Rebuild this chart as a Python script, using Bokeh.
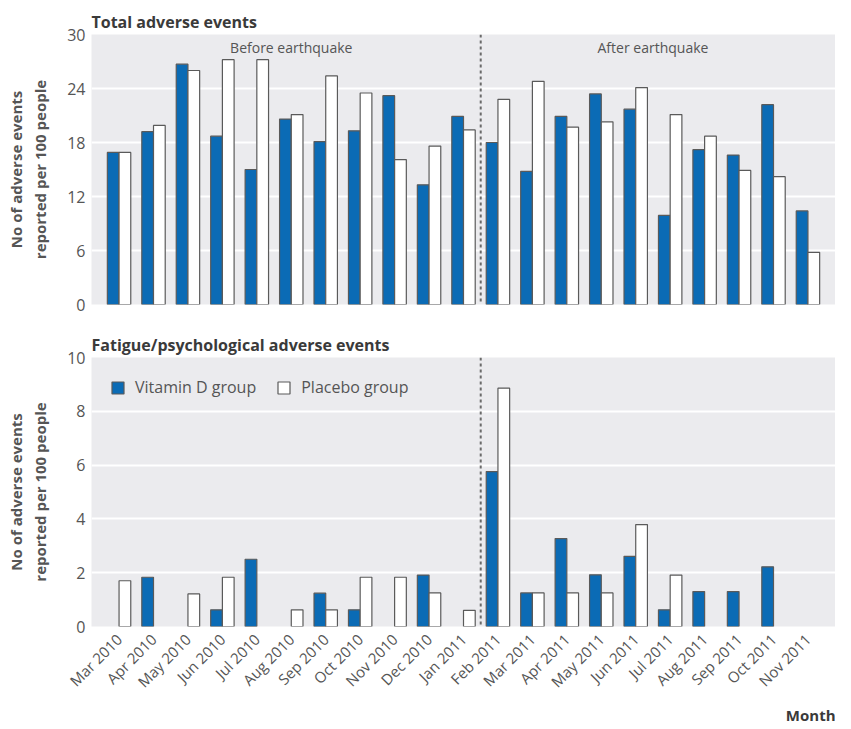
from math import pi
from bokeh.plotting import figure
from bokeh.layouts import column
from bokeh.models import (FactorRange, Span, Label, Legend, LegendItem,
                          ColumnDataSource, Title, CDSView, BooleanFilter)
from bokeh.transform import dodge
from bokeh.embed import file_html
from bokeh.resources import INLINE

months = ["Mar 2010", "Apr 2010", "May 2010", "Jun 2010", "Jul 2010", "Aug 2010",
          "Sep 2010", "Oct 2010", "Nov 2010", "Dec 2010", "Jan 2011", "Feb 2011",
          "Mar 2011", "Apr 2011", "May 2011", "Jun 2011", "Jul 2011", "Aug 2011",
          "Sep 2011", "Oct 2011", "Nov 2011"]
total_vitd = [16.9, 19.2, 26.7, 18.7, 15.0, 20.6, 18.1, 19.3, 23.2, 13.3, 20.9,
              18.0, 14.8, 20.9, 23.4, 21.7, 9.9, 17.2, 16.6, 22.2, 10.4]
total_placebo = [16.9, 19.9, 26.0, 27.2, 27.2, 21.1, 25.4, 23.5, 16.1, 17.6, 19.4,
                 22.8, 24.8, 19.7, 20.3, 24.1, 21.1, 18.7, 14.9, 14.2, 5.8]
fatigue_vitd = [0, 1.83, 0, 0.62, 2.5, 0, 1.24, 0.62, 0, 1.91, 0,
                5.76, 1.25, 3.27, 1.92, 2.61, 0.62, 1.3, 1.3, 2.22, 0]
fatigue_placebo = [1.70, 0, 1.21, 1.83, 0, 0.62, 0.62, 1.83, 1.83, 1.25, 0.6,
                   8.86, 1.25, 1.25, 1.25, 3.79, 1.91, 0, 0, 0, 0]
y_ticks_total = [0, 6, 12, 18, 24, 30]
y_ticks_fatigue = [0, 2, 4, 6, 8, 10]
period_labels = ["Before earthquake", "After earthquake"]
earthquake_after = "Jan 2011"

BLUE = "#0B6BB5"
EDGE = "#5a5a5a"
BG = "#EBEBEE"
TXT = "#555555"
FONT = "Open Sans"


def base_fig(height, ymax, ticks, title, border_top, border_bottom):
    p = figure(width=835, height=height,
               x_range=FactorRange(*months, range_padding=0.3,
                                   range_padding_units="absolute"),
               y_range=(0, ymax), output_backend="svg", toolbar_location=None,
               min_border_left=91, min_border_right=0,
               min_border_top=border_top, min_border_bottom=border_bottom,
               background_fill_color=BG, border_fill_color="white",
               outline_line_color=None)
    p.title.text = title
    p.title.text_font = FONT
    p.title.text_font_size = "16px"
    p.title.text_font_style = "bold"
    p.title.text_color = "#3a3a3a"
    p.title.align = "left"
    p.title.standoff = 4
    p.xgrid.visible = False
    p.ygrid.grid_line_color = "white"
    p.ygrid.grid_line_width = 2
    p.yaxis.ticker = ticks
    p.yaxis.axis_line_color = None
    p.yaxis.major_tick_line_color = None
    p.yaxis.minor_tick_line_color = None
    p.yaxis.major_tick_out = 0
    p.yaxis.minor_tick_out = 0
    p.yaxis.major_label_text_font = FONT
    p.yaxis.major_label_text_font_size = "16px"
    p.yaxis.major_label_text_color = TXT
    p.yaxis.major_label_standoff = 6
    p.yaxis.axis_label = "No of adverse events\nreported per 100 people"
    p.yaxis.axis_label_text_font = FONT
    p.yaxis.axis_label_text_font_size = "15px"
    p.yaxis.axis_label_text_font_style = "bold"
    p.yaxis.axis_label_text_color = TXT
    p.yaxis.axis_label_standoff = 14
    p.xaxis.axis_line_color = None
    p.xaxis.major_tick_line_color = None
    p.xaxis.minor_tick_line_color = None
    p.xaxis.major_tick_out = 0
    p.xaxis.major_tick_in = 0
    split = months.index(earthquake_after) + 1
    p.add_layout(Span(location=split, dimension="height", line_color="#6a6a6a",
                      line_width=2, line_dash="3 3"))
    return p


def add_bars(p, vitd, placebo):
    src = ColumnDataSource(dict(month=months, vitd=vitd, placebo=placebo))
    v1 = CDSView(filter=BooleanFilter([v > 0 for v in vitd]))
    v2 = CDSView(filter=BooleanFilter([v > 0 for v in placebo]))
    r1 = p.vbar(x=dodge("month", -0.17, range=p.x_range), top="vitd", width=0.34,
                source=src, view=v1, fill_color=BLUE, line_color=EDGE,
                line_width=1.2)
    r2 = p.vbar(x=dodge("month", 0.17, range=p.x_range), top="placebo", width=0.34,
                source=src, view=v2, fill_color="white", line_color=EDGE,
                line_width=1.2)
    return r1, r2


p1 = base_fig(319, 30, y_ticks_total, "Total adverse events", 34, 15)
add_bars(p1, total_vitd, total_placebo)
p1.xaxis.visible = False
split = months.index(earthquake_after) + 1
for txt, xc in zip(period_labels, [split / 2.0, (split + len(months)) / 2.0]):
    p1.add_layout(Label(x=xc, y=28.6, text=txt, text_align="center",
                        text_baseline="middle", text_font=FONT,
                        text_font_size="14px", text_color=TXT))

p2 = base_fig(406, 10, y_ticks_fatigue, "Fatigue/psychological adverse events", 38, 99)
r1, r2 = add_bars(p2, fatigue_vitd, fatigue_placebo)
p2.xaxis.major_label_orientation = pi / 4
p2.xaxis.major_label_text_font = FONT
p2.xaxis.major_label_text_font_size = "15px"
p2.xaxis.major_label_text_color = TXT
p2.xaxis.major_label_standoff = 10
p2.add_layout(Title(text="Month", align="right", text_font=FONT,
                    text_font_size="15px", text_font_style="bold",
                    text_color="#3a3a3a", standoff=2), "below")

legend = Legend(items=[LegendItem(label="Vitamin D group", renderers=[r1]),
                       LegendItem(label="Placebo group", renderers=[r2])],
                location="top_left", orientation="horizontal",
                background_fill_alpha=0, border_line_alpha=0,
                label_text_font=FONT, label_text_font_size="16px",
                label_text_color=TXT, glyph_width=15, glyph_height=15,
                label_standoff=10, spacing=20, margin=10, padding=9)
p2.add_layout(legend)

layout = column(p1, p2, spacing=0)
open("out.html", "w").write(file_html(layout, INLINE))
